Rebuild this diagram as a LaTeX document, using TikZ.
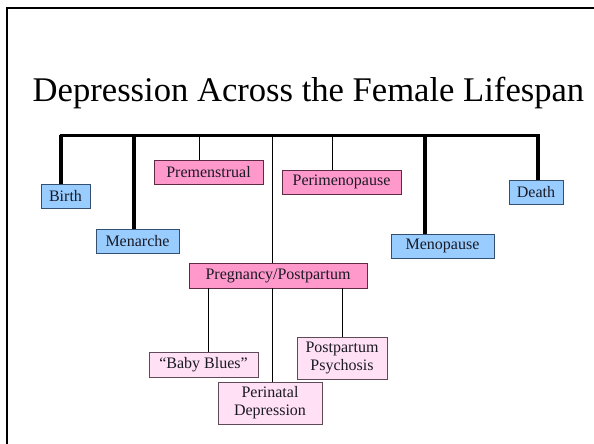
\documentclass[tikz,border=0pt]{standalone}
\usepackage{fontspec}
\setmainfont{Liberation Serif}
\definecolor{lblue}{HTML}{99CCFF}
\definecolor{lblueb}{HTML}{34506E}
\definecolor{mpink}{HTML}{FF99CC}
\definecolor{mpinkb}{HTML}{5E2A44}
\definecolor{spink}{HTML}{FFE0F4}
\definecolor{spinkb}{HTML}{5E4A58}
\definecolor{boxtext}{HTML}{1A1A24}
\begin{document}
\begin{tikzpicture}[x=1pt,y=-1pt,
  box/.style={rectangle, inner sep=0pt, font=\fontsize{16}{18}\selectfont, text=boxtext, align=center, line width=0.8pt},
  bluebox/.style={box, fill=lblue, draw=lblueb},
  pinkbox/.style={box, fill=mpink, draw=mpinkb},
  softbox/.style={box, fill=spink, draw=spinkb},
  thickline/.style={line width=3.2pt},
  thinline/.style={line width=1pt}]
\useasboundingbox (0,0) rectangle (594,444);
\fill[white] (0,0) rectangle (594,444);
% slide frame
\coordinate (fa) at (7,444);
\coordinate (fb) at (7,8);
\coordinate (fc) at (594,8);
\draw[line width=2.2pt] (fa) -- (fb) -- (fc);
% title
\node[anchor=base, font=\fontsize{34.6}{36}\selectfont, inner sep=0pt] (title) at (308.5,101) {Depression Across the Female Lifespan};
% boxes
\node[bluebox, minimum width=49pt, minimum height=24pt] (birth) at (65.5,196) {Birth};
\node[bluebox, minimum width=83pt, minimum height=24pt] (menarche) at (137.5,241) {Menarche};
\node[pinkbox, minimum width=109pt, minimum height=24pt] (premen) at (208.5,172) {Premenstrual};
\node[pinkbox, minimum width=119pt, minimum height=24pt] (perimeno) at (341.5,182) {Perimenopause};
\node[bluebox, minimum width=103pt, minimum height=24pt] (meno) at (442.5,246) {Menopause};
\node[bluebox, minimum width=54pt, minimum height=24pt] (death) at (536,192) {Death};
\node[pinkbox, minimum width=178pt, minimum height=25pt] (preg) at (278,275.5) {Pregnancy/Postpartum};
\node[softbox, minimum width=109pt, minimum height=25pt] (blues) at (203.5,364.5) {“Baby Blues”};
\node[softbox, minimum width=104pt, minimum height=42pt] (perinatal) at (270,403) {Perinatal\\Depression};
\node[softbox, minimum width=90pt, minimum height=42pt] (psych) at (342,358) {Postpartum\\Psychosis};
% bus
\coordinate (j1) at (61,135);
\coordinate (j2) at (134,135);
\coordinate (j3) at (199,135);
\coordinate (j4) at (272.5,135);
\coordinate (j5) at (332,135);
\coordinate (j6) at (425,135);
\coordinate (j7) at (538,135);
\coordinate (bb) at (208,0);
\coordinate (pp) at (342,0);
\draw[line width=3pt] ([xshift=-1.5pt]j1) -- ([xshift=1.5pt]j7);
\draw[thickline] (j1) -- (j1 |- birth.north);
\draw[thickline] (j2) -- (j2 |- menarche.north);
\draw[thinline] (j3) -- (j3 |- premen.north);
\draw[thinline] (j4) -- (j4 |- preg.north);
\draw[thinline] (j5) -- (j5 |- perimeno.north);
\draw[thickline] (j6) -- (j6 |- meno.north);
\draw[thickline] (j7) -- (j7 |- death.north);
\draw[thinline] (j4 |- preg.south) -- (j4 |- perinatal.north);
\draw[thinline] (bb |- preg.south) -- (bb |- blues.north);
\draw[thinline] (pp |- preg.south) -- (pp |- psych.north);
\end{tikzpicture}
\end{document}
